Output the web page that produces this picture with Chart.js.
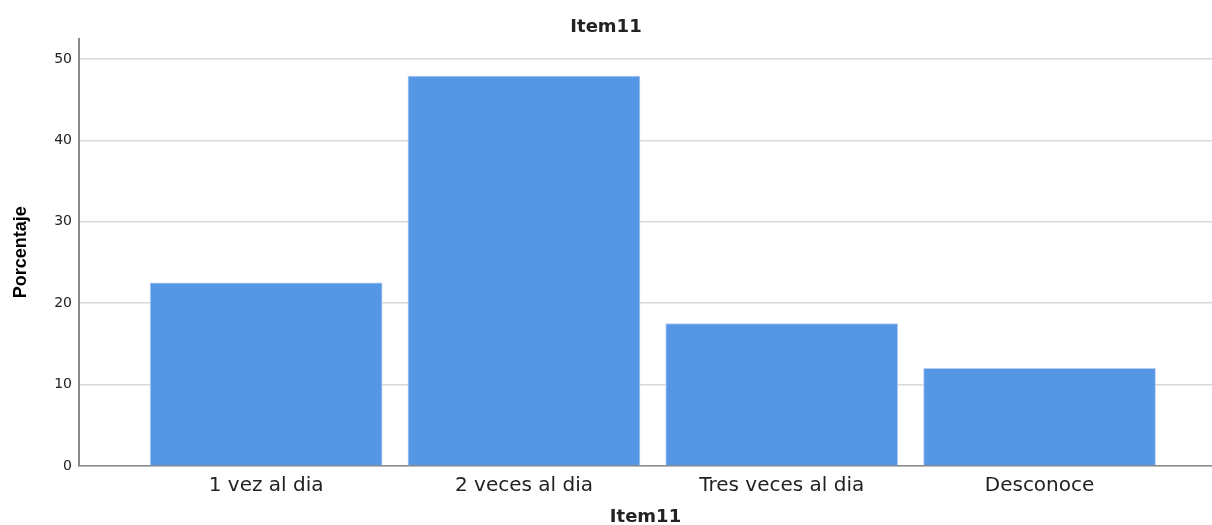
<!DOCTYPE html>
<html>
<head>
<meta charset="utf-8">
<title>Item11</title>
<script src="https://cdn.jsdelivr.net/npm/chart.js@4.4.1/dist/chart.umd.min.js"></script>
<style>
    body { margin: 0; background: #fff; }
    #wrap { width: 1212px; height: 525px; position: relative; }
</style>
</head>
<body>
<div id="wrap"><canvas id="item11Chart"></canvas></div>
<script>
// data
const categories = ['1 vez al dia', '2 veces al dia', 'Tres veces al dia', 'Desconoce'];
const percentages = [22.5, 47.9, 17.5, 12.0];
const yTicks = [0, 10, 20, 30, 40, 50];

// bars sit on a linear x scale so the margins match the original
const positions = categories.map((c, i) => i + 1);

const barColor = 'rgb(85, 150, 229)';
const textColor = '#222';

const barData = {
    datasets: [{
        label: 'Porcentaje',
        data: positions.map((p, i) => ({ x: p, y: percentages[i] })),
        backgroundColor: barColor,
        borderColor: 'rgb(178, 205, 242)',
        borderWidth: 1,
        barThickness: 232,
        grouped: false
    }]
};

const barConfig = {
    type: 'bar',
    data: barData,
    options: {
        responsive: true,
        maintainAspectRatio: false,
        animation: false,
        layout: { padding: 0 },
        plugins: {
            legend: { display: false },
            tooltip: { enabled: false },
            title: {
                display: true,
                text: 'Item11',
                color: textColor,
                font: { family: 'DejaVu Sans', size: 18, weight: 'bold', lineHeight: 1.2 },
                padding: { top: 17, bottom: 0 }
            }
        },
        scales: {
            x: {
                type: 'linear',
                offset: false,
                min: 0.274,
                max: 4.669,
                grid: { display: false },
                border: { display: true, color: '#8a8a8a', width: 1.5 },
                afterBuildTicks: (scale) => {
                    scale.ticks = positions.map(v => ({ value: v }));
                },
                afterFit: (scale) => { scale.height = 59; },
                ticks: {
                    autoSkip: false,
                    maxRotation: 0,
                    padding: 0,
                    color: textColor,
                    font: { family: 'DejaVu Sans', size: 20 },
                    callback: (value) => categories[value - 1]
                },
                title: {
                    display: true,
                    text: 'Item11',
                    color: textColor,
                    font: { family: 'DejaVu Sans', size: 18, weight: 'bold', lineHeight: 0.8 },
                    padding: 0
                }
            },
            y: {
                min: 0,
                max: 52.5,
                grid: { color: '#d8d8d8', lineWidth: 1.5, drawTicks: false },
                border: { display: true, color: '#8a8a8a', width: 2 },
                afterBuildTicks: (scale) => {
                    scale.ticks = yTicks.map(v => ({ value: v }));
                },
                afterFit: (scale) => { scale.width = 79; },
                ticks: {
                    padding: 7,
                    color: textColor,
                    font: { family: 'DejaVu Sans', size: 14 }
                },
                title: {
                    display: true,
                    text: 'Porcentaje',
                    color: '#000',
                    font: { family: "'Liberation Sans', Arial, sans-serif", size: 18, weight: 'bold', lineHeight: 1.2 },
                    padding: { top: 10, bottom: 0 }
                }
            }
        }
    }
};

const item11Chart = new Chart(document.getElementById('item11Chart'), barConfig);
</script>
</body>
</html>
